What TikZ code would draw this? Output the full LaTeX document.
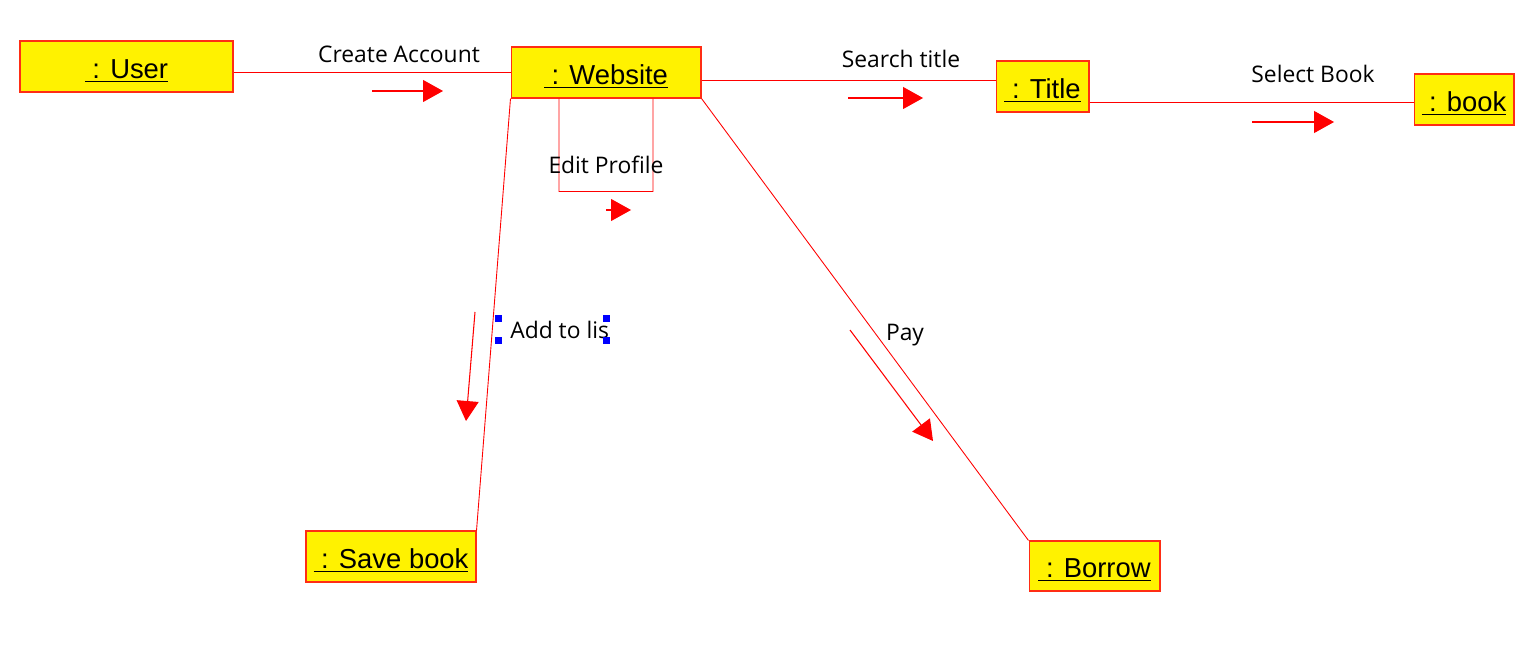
\documentclass[tikz,border=0pt]{standalone}
\usepackage{fontspec}
\setmainfont{Liberation Sans}
\newfontfamily\msgfont{Open Sans}
\usetikzlibrary{arrows.meta}
\definecolor{objline}{RGB}{255,45,20}
\definecolor{handle}{RGB}{0,0,255}
\newcommand{\objname}[1]{\underline{\ : #1}}
\begin{document}
\begin{tikzpicture}[x=0.02cm,y=-0.02cm,
  obj/.style={draw=objline, fill=yellow, line width=0.6pt, inner sep=0pt,
    text height=13.4pt, text depth=0pt,
    minimum height=1.02cm, font=\fontsize{15.6}{18}\selectfont},
  link/.style={draw=red, line width=0.5pt},
  msg/.style={draw=red, line width=0.6pt, -{Triangle[length=0.4cm,width=0.44cm]}},
  lbl/.style={font=\msgfont\fontsize{13}{15}\selectfont, inner sep=0pt},
  grip/.style={fill=handle, minimum size=0.14cm, inner sep=0pt}]
\useasboundingbox (0,0) rectangle (1533,655);

% objects
\node[obj, minimum width=4.26cm] (user)    at (126.5,66.5) {\objname{User}};
\node[obj, minimum width=3.80cm] (web)     at (606,72.5)   {\objname{Website}};
\node[obj, minimum width=1.86cm] (title)   at (1042.5,86.5){\objname{Title}};
\node[obj, minimum width=2.00cm] (book)    at (1464,99.5)  {\objname{book}};
\node[obj, minimum width=3.40cm] (save)    at (391,556.5)  {\objname{Save book}};
\node[obj, minimum width=2.62cm, minimum height=1.0cm] (borrow) at (1094.5,566) {\objname{Borrow}};

% links
\draw[link] (web.west) -- (web.west -| user.east);
\draw[link] (web.east |- 0,80) -- (title.west |- 0,80);
\draw[link] (title.east |- 0,102) -- (book.west |- 0,102);
\draw[link] (web.south west) -- (save.north east);
\draw[link] (web.south east) -- (borrow.north west);
\draw[link] ([xshift=-0.94cm]web.south) -- ++(0,93) -- ++(94,0) -- ([xshift=0.94cm]web.south);

% messages
\coordinate (m1a) at (372,91);   \coordinate (m1b) at (443,91);
\coordinate (m2a) at (848,98);   \coordinate (m2b) at (923,98);
\coordinate (m3a) at (1252,122); \coordinate (m3b) at (1334,122);
\coordinate (m4a) at (606,210);  \coordinate (m4b) at (631,210);
\coordinate (m5a) at (475,312);  \coordinate (m5b) at (466,421);
\coordinate (m6a) at (850,330);  \coordinate (m6b) at (933,441);
\draw[msg] (m1a) -- (m1b);
\draw[msg] (m2a) -- (m2b);
\draw[msg] (m3a) -- (m3b);
\draw[msg] (m4a) -- (m4b);
\draw[msg] (m5a) -- (m5b);
\draw[msg] (m6a) -- (m6b);

\node[lbl] (l1) at (399,54)  {Create Account};
\node[lbl] (l2) at (901,59)  {Search title};
\node[lbl] (l3) at (1313,74) {Select Book};
\node[lbl] (l4) at (606,165) {Edit Profile};
\node[lbl] (l6) at (905,335) {Pay};

% text box being edited, with its grips
\begin{scope}
  \clip (490,300) rectangle (607,360);
  \node[lbl, anchor=west] (l5) at (510,330) {Add to list};
\end{scope}
\node[grip] (g1) at (498,318.5) {};
\node[grip] (g2) at (498,340.5) {};
\node[grip] (g3) at (606.5,318.5) {};
\node[grip] (g4) at (606.5,340.5) {};
\end{tikzpicture}
\end{document}
